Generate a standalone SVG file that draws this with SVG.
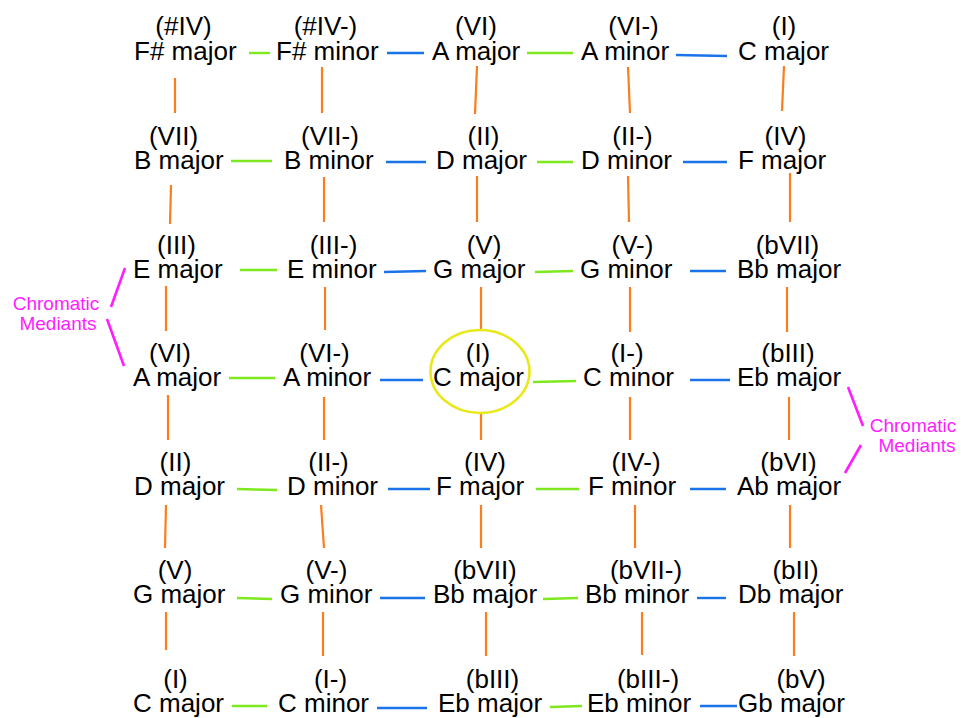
<svg xmlns="http://www.w3.org/2000/svg" width="969" height="718" viewBox="0 0 969 718">
<style>
text{font-family:"Liberation Sans",Arial,sans-serif;fill:#000}
.c{font-size:26px}
.r{font-size:26px;text-anchor:middle}
.m{font-size:19px;fill:#ff1cff;text-anchor:middle}
.o{stroke:#fb7d1d;stroke-width:2.2;fill:none}
.g{stroke:#7ee81e;stroke-width:2.4;fill:none}
.b{stroke:#1a73e8;stroke-width:2.4;fill:none}
.p{stroke:#ff1cff;stroke-width:2.6;fill:none}
</style>
<rect width="969" height="718" fill="#fff"/>
<g id="connectors">
<!-- horizontal -->
<line class="g" x1="249" y1="53" x2="270" y2="53"/>
<line class="b" x1="387" y1="53" x2="424" y2="53"/>
<line class="g" x1="527" y1="53" x2="573" y2="53"/>
<line class="b" x1="676" y1="55" x2="727" y2="56"/>
<line class="g" x1="231" y1="161" x2="272" y2="161"/>
<line class="b" x1="386" y1="162" x2="426" y2="162"/>
<line class="g" x1="537" y1="162" x2="573" y2="162"/>
<line class="b" x1="683" y1="162" x2="727" y2="162"/>
<line class="g" x1="240" y1="270" x2="277" y2="270"/>
<line class="b" x1="384" y1="272" x2="426" y2="271"/>
<line class="g" x1="535" y1="272" x2="573" y2="271"/>
<line class="b" x1="690" y1="271" x2="726" y2="271"/>
<line class="g" x1="229" y1="378" x2="275" y2="378"/>
<line class="b" x1="380" y1="380" x2="423" y2="380"/>
<line class="g" x1="533" y1="382" x2="576" y2="381"/>
<line class="b" x1="690" y1="380" x2="730" y2="380"/>
<line class="g" x1="237" y1="489" x2="277" y2="490"/>
<line class="b" x1="388" y1="489" x2="430" y2="489"/>
<line class="g" x1="536" y1="489" x2="579" y2="489"/>
<line class="b" x1="690" y1="489" x2="726" y2="489"/>
<line class="g" x1="237" y1="598" x2="272" y2="599"/>
<line class="b" x1="380" y1="598" x2="425" y2="598"/>
<line class="g" x1="543" y1="599" x2="578" y2="598"/>
<line class="b" x1="697" y1="598" x2="726" y2="598"/>
<line class="g" x1="232" y1="706" x2="267" y2="706"/>
<line class="b" x1="377" y1="708" x2="427" y2="708"/>
<line class="g" x1="550" y1="707" x2="582" y2="706"/>
<line class="b" x1="700" y1="706" x2="737" y2="706"/>
<!-- vertical col1 -->
<line class="o" x1="175" y1="78" x2="175" y2="113"/>
<line class="o" x1="171" y1="185" x2="170" y2="224"/>
<line class="o" x1="166" y1="286" x2="166" y2="331"/>
<line class="o" x1="168" y1="395" x2="168" y2="440"/>
<line class="o" x1="166" y1="505" x2="165" y2="548"/>
<line class="o" x1="166" y1="612" x2="166" y2="650"/>
<!-- col2 -->
<line class="o" x1="322" y1="67" x2="322" y2="113"/>
<line class="o" x1="324" y1="177" x2="324" y2="222"/>
<line class="o" x1="325" y1="287" x2="325" y2="330"/>
<line class="o" x1="324" y1="397" x2="324" y2="440"/>
<line class="o" x1="321" y1="505" x2="324" y2="548"/>
<line class="o" x1="323" y1="612" x2="323" y2="656"/>
<!-- col3 -->
<line class="o" x1="477" y1="66" x2="475" y2="114"/>
<line class="o" x1="477" y1="176" x2="477" y2="222"/>
<line class="o" x1="481" y1="287" x2="481" y2="330"/>
<line class="o" x1="481" y1="413" x2="481" y2="440"/>
<line class="o" x1="481" y1="505" x2="481" y2="548"/>
<line class="o" x1="486" y1="612" x2="486" y2="656"/>
<!-- col4 -->
<line class="o" x1="628" y1="67" x2="630" y2="113"/>
<line class="o" x1="628" y1="176" x2="629" y2="222"/>
<line class="o" x1="630" y1="287" x2="630" y2="332"/>
<line class="o" x1="630" y1="397" x2="630" y2="440"/>
<line class="o" x1="635" y1="505" x2="635" y2="548"/>
<line class="o" x1="642" y1="612" x2="642" y2="655"/>
<!-- col5 -->
<line class="o" x1="784" y1="66" x2="782" y2="111"/>
<line class="o" x1="790" y1="173" x2="790" y2="222"/>
<line class="o" x1="787" y1="287" x2="787" y2="332"/>
<line class="o" x1="789" y1="397" x2="789" y2="440"/>
<line class="o" x1="790" y1="505" x2="790" y2="548"/>
<line class="o" x1="794" y1="612" x2="794" y2="656"/>
<!-- chromatic mediants brackets -->
<line class="p" x1="125" y1="268" x2="111" y2="307"/>
<line class="p" x1="107" y1="319" x2="124" y2="366"/>
<line class="p" x1="848" y1="387" x2="863" y2="426"/>
<line class="p" x1="861" y1="445" x2="845" y2="473"/>
</g>
<ellipse id="highlight" cx="480" cy="371.5" rx="49.5" ry="41.5" fill="none" stroke="#e8e81a" stroke-width="2.6"/>
<!-- row 1 -->
<g id="n-1-1"><text class="r" x="183.5" y="35">(#IV)</text><text class="c" x="134" y="60">F# major</text></g>
<g id="n-1-2"><text class="r" x="325.5" y="35">(#IV-)</text><text class="c" x="276" y="60">F# minor</text></g>
<g id="n-1-3"><text class="r" x="476" y="35">(VI)</text><text class="c" x="432" y="60">A major</text></g>
<g id="n-1-4"><text class="r" x="633.5" y="35">(VI-)</text><text class="c" x="581" y="60">A minor</text></g>
<g id="n-1-5"><text class="r" x="784" y="35">(I)</text><text class="c" x="738" y="60">C major</text></g>
<!-- row 2 -->
<g id="n-2-1"><text class="r" x="173.5" y="145">(VII)</text><text class="c" x="134" y="169">B major</text></g>
<g id="n-2-2"><text class="r" x="330" y="145">(VII-)</text><text class="c" x="284" y="169">B minor</text></g>
<g id="n-2-3"><text class="r" x="483.5" y="145">(II)</text><text class="c" x="436" y="169">D major</text></g>
<g id="n-2-4"><text class="r" x="632.5" y="145">(II-)</text><text class="c" x="581" y="169">D minor</text></g>
<g id="n-2-5"><text class="r" x="785.5" y="145">(IV)</text><text class="c" x="738" y="169">F major</text></g>
<!-- row 3 -->
<g id="n-3-1"><text class="r" x="176.5" y="254">(III)</text><text class="c" x="133" y="278">E major</text></g>
<g id="n-3-2"><text class="r" x="333.5" y="254">(III-)</text><text class="c" x="287" y="278">E minor</text></g>
<g id="n-3-3"><text class="r" x="484" y="254">(V)</text><text class="c" x="433" y="278">G major</text></g>
<g id="n-3-4"><text class="r" x="632.5" y="254">(V-)</text><text class="c" x="580" y="278">G minor</text></g>
<g id="n-3-5"><text class="r" x="787.5" y="254">(bVII)</text><text class="c" x="737" y="278">Bb major</text></g>
<!-- row 4 -->
<g id="n-4-1"><text class="r" x="170" y="362">(VI)</text><text class="c" x="133" y="386">A major</text></g>
<g id="n-4-2"><text class="r" x="324.5" y="362">(VI-)</text><text class="c" x="283" y="386">A minor</text></g>
<g id="n-4-3"><text class="r" x="478" y="362">(I)</text><text class="c" x="433" y="386">C major</text></g>
<g id="n-4-4"><text class="r" x="627" y="362">(I-)</text><text class="c" x="583" y="386">C minor</text></g>
<g id="n-4-5"><text class="r" x="788" y="362">(bIII)</text><text class="c" x="737" y="386">Eb major</text></g>
<!-- row 5 -->
<g id="n-5-1"><text class="r" x="175.5" y="471">(II)</text><text class="c" x="134" y="495">D major</text></g>
<g id="n-5-2"><text class="r" x="328.5" y="471">(II-)</text><text class="c" x="287" y="495">D minor</text></g>
<g id="n-5-3"><text class="r" x="485" y="471">(IV)</text><text class="c" x="436" y="495">F major</text></g>
<g id="n-5-4"><text class="r" x="636" y="471">(IV-)</text><text class="c" x="588" y="495">F minor</text></g>
<g id="n-5-5"><text class="r" x="788.5" y="471">(bVI)</text><text class="c" x="737" y="495">Ab major</text></g>
<!-- row 6 -->
<g id="n-6-1"><text class="r" x="175" y="579">(V)</text><text class="c" x="133" y="603">G major</text></g>
<g id="n-6-2"><text class="r" x="326.5" y="579">(V-)</text><text class="c" x="280" y="603">G minor</text></g>
<g id="n-6-3"><text class="r" x="485" y="579">(bVII)</text><text class="c" x="433" y="603">Bb major</text></g>
<g id="n-6-4"><text class="r" x="646" y="579">(bVII-)</text><text class="c" x="585" y="603">Bb minor</text></g>
<g id="n-6-5"><text class="r" x="795.5" y="579">(bII)</text><text class="c" x="738" y="603">Db major</text></g>
<!-- row 7 -->
<g id="n-7-1"><text class="r" x="175.5" y="688">(I)</text><text class="c" x="133" y="712">C major</text></g>
<g id="n-7-2"><text class="r" x="330.5" y="688">(I-)</text><text class="c" x="278" y="712">C minor</text></g>
<g id="n-7-3"><text class="r" x="492.5" y="688">(bIII)</text><text class="c" x="438" y="712">Eb major</text></g>
<g id="n-7-4"><text class="r" x="648" y="688">(bIII-)</text><text class="c" x="587" y="712">Eb minor</text></g>
<g id="n-7-5"><text class="r" x="801" y="688">(bV)</text><text class="c" x="738" y="712">Gb major</text></g>
<!-- annotations -->
<g id="label-left"><text class="m" x="56" y="310">Chromatic</text><text class="m" x="58" y="330">Mediants</text></g>
<g id="label-right"><text class="m" x="913" y="432">Chromatic</text><text class="m" x="917" y="452">Mediants</text></g>
</svg>
